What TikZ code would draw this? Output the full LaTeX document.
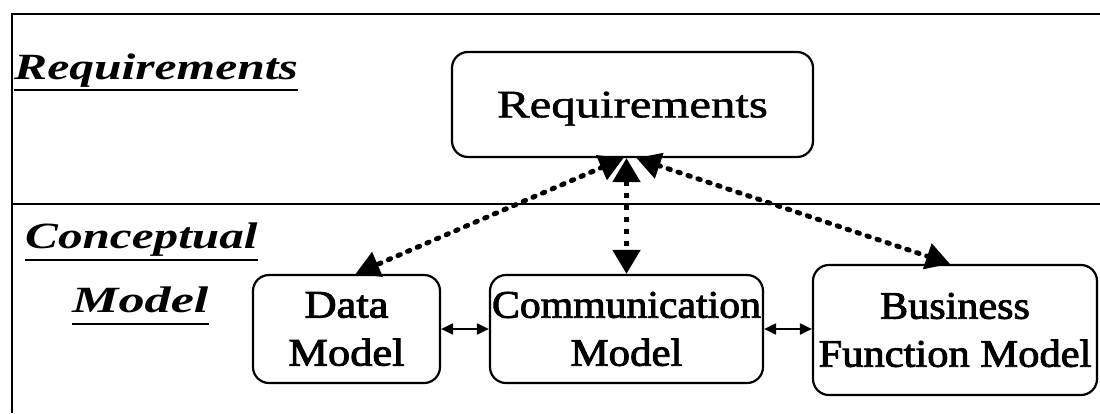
\documentclass[tikz,border=0pt]{standalone}
\usepackage{fontspec}
\setmainfont{Liberation Serif}
\newfontfamily\medfont{Liberation Serif}[FakeBold=2.2]
\newfontfamily\softfont{Liberation Serif}[FakeBold=1.2]
\usepackage{graphicx}
\usetikzlibrary{arrows.meta,calc}

% horizontally widened text
\newcommand{\hstr}[2]{\scalebox{#1}[1]{#2}}

\begin{document}
\begin{tikzpicture}[x=1pt,y=-1pt,
  frameline/.style={line width=2.2pt},
  box/.style={draw, line width=2.2pt, rounded corners=16pt, inner sep=0pt,
    align=center, font=\fontsize{39}{48}\medfont},
  lane/.style={inner sep=0pt, anchor=base west,
    font=\fontsize{37}{42}\selectfont\bfseries\itshape},
  uline/.style={line width=2pt},
  dotlink/.style={line width=5pt, line cap=round, dash pattern=on 2.5pt off 8pt,
    {Triangle[length=24pt,width=26pt]}-{Triangle[length=24pt,width=26pt]}},
  sqlink/.style={line width=5pt, dash pattern=on 5pt off 7pt,
    {Triangle[length=24pt,width=27pt]}-{Triangle[length=24pt,width=27pt]}},
  peerlink/.style={line width=2pt,
    {Triangle[length=12pt,width=11pt]}-{Triangle[length=12pt,width=11pt]}}
]
\useasboundingbox[fill=white] (0,0) rectangle (1100,413);

% frame and layer divider
\coordinate (ftl) at (12,14);
\coordinate (ftr) at (1100,14);
\coordinate (fbl) at (12,413);
\coordinate (dvl) at (12,204);
\coordinate (dvr) at (1100,204);
\draw[frameline] (fbl) -- (ftl) -- (ftr);
\draw[frameline] (dvl) -- (dvr);

% layer labels
\node[lane] (labreq) at (14,79) {\hstr{1.34}{Requirements}};
\node[lane] (labcon) at (25,248) {\hstr{1.33}{Conceptual}};
\node[lane] (labmod) at (72,312) {\hstr{1.41}{Model}};
\draw[uline] ($(labreq.base west)+(0,11)$) -- ($(labreq.base east)+(0,11)$);
\draw[uline] ($(labcon.base west)+(0,12)$) -- ($(labcon.base east)+(0,12)$);
\draw[uline] ($(labmod.base west)+(0,12)$) -- ($(labmod.base east)+(0,12)$);

% boxes
\node[box, font=\fontsize{39}{48}\softfont, text depth=0pt,
  minimum width=361pt, minimum height=105pt] (req) at (632.5,104.5)
  {\hstr{1.25}{Requirements}};
\node[box, minimum width=187pt, minimum height=108pt] (data) at (346.5,329)
  {\hstr{1.14}{Data}\\\hstr{1.14}{Model}};
\node[box, minimum width=273pt, minimum height=108pt] (comm) at (626.5,329)
  {\hstr{1.07}{Communication}\\\hstr{1.1}{Model}};
\node[box, minimum width=284pt, minimum height=130pt] (bus) at (955,330)
  {\hstr{1.08}{Business}\\\hstr{1.09}{Function Model}};

% links between requirements and the conceptual models
\draw[dotlink] ($(req.south)+(-9,0)$) -- ($(data.north)+(9,0)$);
\draw[sqlink] (req.south -| comm.north) -- (comm.north);
\draw[dotlink] ($(req.south)+(4,0)$) -- ($(bus.north)+(-5,0)$);

% links among the conceptual models
\draw[peerlink] (data.east) -- (comm.west);
\draw[peerlink] (comm.east) -- (comm.east -| bus.west);
\end{tikzpicture}
\end{document}
